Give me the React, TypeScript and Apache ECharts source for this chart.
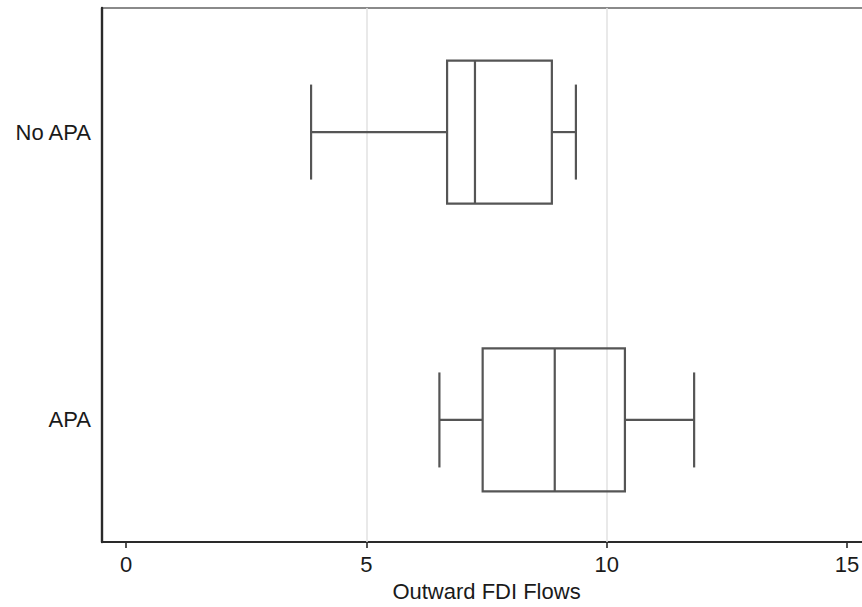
import React, { useEffect, useRef } from "react";
import * as echarts from "echarts";

const groups = ["No APA", "APA"];
const groupPos = [2, 1];
const lowerWhisker = [3.85, 6.52];
const q1 = [6.68, 7.42];
const median = [7.26, 8.92];
const q3 = [8.86, 10.38];
const upperWhisker = [9.36, 11.82];
const xTicks = [0, 5, 10, 15];
const gridLines = [5, 10];
const xTitle = "Outward FDI Flows";

export default function App() {
  const ref = useRef<HTMLDivElement>(null);
  useEffect(() => {
    if (!ref.current) return;
    const chart = echarts.init(ref.current, null, { renderer: "svg" });
    const data = groups.map((g, i) => [
      groupPos[i],
      lowerWhisker[i],
      q1[i],
      median[i],
      q3[i],
      upperWhisker[i],
    ]);
    const boxHalf = 71.5;
    const capHalf = 47.5;
    const stroke = "#555";
    const lw = 2.2;
    const font = "'Liberation Sans', Arial, Helvetica, sans-serif";
    chart.setOption({
      animation: false,
      backgroundColor: "#fff",
      grid: {
        left: 102,
        right: 0,
        top: 8,
        bottom: 65,
        show: true,
        borderColor: "#8a8a8a",
        borderWidth: 2,
        backgroundColor: "transparent",
      },
      xAxis: {
        type: "value",
        min: -0.5,
        max: 15.5,
        name: xTitle,
        nameLocation: "middle",
        nameGap: 38,
        nameTextStyle: { fontSize: 22, color: "#1a1a1a", fontFamily: font },
        axisLine: { show: true, onZero: false, lineStyle: { color: "#2a2a2a", width: 2.2 } },
        axisTick: {
          show: true,
          length: 6,
          customValues: xTicks,
          lineStyle: { color: "#2a2a2a", width: 1.6 },
        },
        axisLabel: {
          customValues: xTicks,
          fontSize: 22,
          color: "#1a1a1a",
          fontFamily: font,
          margin: 11,
        },
        splitLine: { show: false },
      },
      yAxis: {
        type: "value",
        min: 0.576,
        max: 2.431,
        axisLine: { show: true, onZero: false, lineStyle: { color: "#2a2a2a", width: 2.4 } },
        axisTick: { show: false },
        axisLabel: {
          customValues: groupPos,
          fontSize: 22,
          color: "#1a1a1a",
          fontFamily: font,
          margin: 11,
          formatter: (v: number) => {
            const idx = groupPos.indexOf(v);
            return idx >= 0 ? groups[idx] : "";
          },
        },
        splitLine: { show: false },
      },
      series: [
        {
          type: "custom",
          data,
          encode: { x: [1, 2, 3, 4, 5], y: 0 },
          markLine: {
            silent: true,
            symbol: "none",
            label: { show: false },
            lineStyle: { color: "#e2e2e2", width: 1.5, type: "solid" },
            data: gridLines.map((v) => ({ xAxis: v })),
            z: 1,
          },
          z: 5,
          renderItem: (params: any, api: any) => {
            const y = api.value(0);
            const pLo = api.coord([api.value(1), y]);
            const pQ1 = api.coord([api.value(2), y]);
            const pMed = api.coord([api.value(3), y]);
            const pQ3 = api.coord([api.value(4), y]);
            const pHi = api.coord([api.value(5), y]);
            const cy = pQ1[1];
            const style = { stroke, lineWidth: lw, fill: "none" };
            return {
              type: "group",
              children: [
                {
                  type: "rect",
                  shape: {
                    x: pQ1[0],
                    y: cy - boxHalf,
                    width: pQ3[0] - pQ1[0],
                    height: boxHalf * 2,
                  },
                  style,
                },
                {
                  type: "line",
                  shape: { x1: pMed[0], y1: cy - boxHalf, x2: pMed[0], y2: cy + boxHalf },
                  style,
                },
                {
                  type: "line",
                  shape: { x1: pLo[0], y1: cy, x2: pQ1[0], y2: cy },
                  style,
                },
                {
                  type: "line",
                  shape: { x1: pQ3[0], y1: cy, x2: pHi[0], y2: cy },
                  style,
                },
                {
                  type: "line",
                  shape: { x1: pLo[0], y1: cy - capHalf, x2: pLo[0], y2: cy + capHalf },
                  style,
                },
                {
                  type: "line",
                  shape: { x1: pHi[0], y1: cy - capHalf, x2: pHi[0], y2: cy + capHalf },
                  style,
                },
              ],
            };
          },
        },
      ],
    });
    return () => chart.dispose();
  }, []);
  return (
    <div
      style={{
        position: "fixed",
        left: 0,
        top: 0,
        width: 862,
        height: 607,
        overflow: "hidden",
        background: "#fff",
      }}
    >
      <div ref={ref} style={{ width: 871, height: 607 }} />
    </div>
  );
}
